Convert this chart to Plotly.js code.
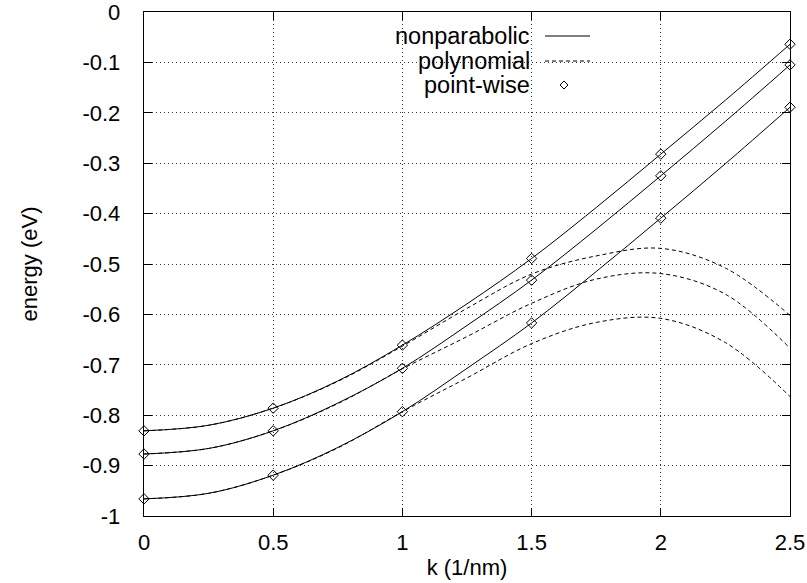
<!DOCTYPE html>
<html>
<head>
<meta charset="utf-8">
<script src="https://cdn.plot.ly/plotly-3.0.1.min.js"></script>
<style>
html,body{margin:0;padding:0;background:#fff;}
#chart{width:807px;height:583px;}
</style>
</head>
<body>
<div id="chart"></div>
<script>
// k values (1/nm)
const kLine = [0, 0.25, 0.5, 0.75, 1, 1.25, 1.5, 1.75, 2, 2.25, 2.5];
const kPts = [0, 0.5, 1, 1.5, 2, 2.5];

// nonparabolic curves (solid)
const nonpar1 = [-0.831, -0.820, -0.786, -0.732, -0.661, -0.579, -0.489, -0.388, -0.282, -0.175, -0.064];
const nonpar2 = [-0.877, -0.866, -0.831, -0.776, -0.707, -0.622, -0.532, -0.431, -0.325, -0.217, -0.105];
const nonpar3 = [-0.966, -0.955, -0.919, -0.864, -0.793, -0.707, -0.617, -0.515, -0.409, -0.301, -0.189];

// polynomial fits (dashed)
const poly1 = [-0.831, -0.820, -0.786, -0.733, -0.663, -0.588, -0.520, -0.484, -0.469, -0.508, -0.602];
const poly2 = [-0.877, -0.866, -0.831, -0.777, -0.708, -0.644, -0.578, -0.530, -0.519, -0.560, -0.667];
const poly3 = [-0.966, -0.955, -0.919, -0.865, -0.793, -0.726, -0.658, -0.616, -0.608, -0.656, -0.763];

// point-wise values (diamonds)
const pts1 = [-0.831, -0.786, -0.661, -0.489, -0.282, -0.064];
const pts2 = [-0.877, -0.831, -0.707, -0.532, -0.325, -0.105];
const pts3 = [-0.966, -0.919, -0.793, -0.617, -0.409, -0.189];

// tick labels
const xTickVals = [0, 0.5, 1, 1.5, 2, 2.5];
const xTickText = ["0", "0.5", "1", "1.5", "2", "2.5"];
const yTickVals = [0, -0.1, -0.2, -0.3, -0.4, -0.5, -0.6, -0.7, -0.8, -0.9, -1];
const yTickText = ["0", "-0.1", "-0.2", "-0.3", "-0.4", "-0.5", "-0.6", "-0.7", "-0.8", "-0.9", "-1"];

const legendLabels = ["nonparabolic", "polynomial", "point-wise"];

const FONT = "Liberation Sans, Arial, Helvetica, sans-serif";

const solid = {color: "#000", width: 1, shape: "spline"};
const dashed = {color: "#000", width: 1, shape: "spline", dash: "4px,3px"};
const mk = {symbol: "diamond-open", size: 8, color: "#000", line: {color: "#000", width: 1}};

const traces = [];
[nonpar1, nonpar2, nonpar3].forEach(v => traces.push({x: kLine, y: v, mode: "lines", line: solid, hoverinfo: "skip"}));
[poly1, poly2, poly3].forEach(v => traces.push({x: kLine, y: v, mode: "lines", line: dashed, hoverinfo: "skip"}));
[pts1, pts2, pts3].forEach(v => traces.push({x: kPts, y: v, mode: "markers", marker: mk, hoverinfo: "skip", cliponaxis: false}));

// custom legend (text left, sample right), in paper coordinates
const W = 807, H = 583, L = 144, R = 17, T = 12, B = 67;
const pw = W - L - R, ph = H - T - B;
const px = x => (x - L) / pw;
const py = y => 1 - (y - T) / ph;
const rowsY = [36, 61, 85];
const annotations = legendLabels.map((t, i) => ({
  text: t, xref: "paper", yref: "paper", x: px(532), y: py(rowsY[i]),
  xanchor: "right", yanchor: "middle", showarrow: false,
  font: {family: FONT, size: 23.5, color: "#000"}
}));
const shapes = [
  {type: "line", xref: "paper", yref: "paper", x0: px(545), x1: px(590), y0: py(rowsY[0]), y1: py(rowsY[0]), line: {color: "#000", width: 1}},
  {type: "line", xref: "paper", yref: "paper", x0: px(545), x1: px(590), y0: py(rowsY[1]), y1: py(rowsY[1]), line: {color: "#000", width: 1, dash: "4px,3px"}},
  {type: "path", xref: "paper", yref: "paper",
   path: `M ${px(560)} ${py(rowsY[2])} L ${px(564)} ${py(rowsY[2]-4)} L ${px(568)} ${py(rowsY[2])} L ${px(564)} ${py(rowsY[2]+4)} Z`,
   line: {color: "#000", width: 1}, fillcolor: "#fff"}
];

const axisCommon = {
  showline: true, linecolor: "#000", linewidth: 1.3, mirror: "ticks",
  ticks: "inside", ticklen: 8, tickcolor: "#000", tickwidth: 1,
  showgrid: true, gridcolor: "#333", griddash: "1px,3px", gridwidth: 1,
  zeroline: false, tickmode: "array", ticklabeloverflow: "allow",
  tickfont: {family: FONT, size: 22, color: "#000"}
};

const layout = {
  width: W, height: H,
  margin: {l: L, r: R, t: T, b: B},
  paper_bgcolor: "#fff", plot_bgcolor: "#fff",
  showlegend: false,
  font: {family: FONT, size: 22, color: "#000"},
  xaxis: Object.assign({}, axisCommon, {
    range: [0, 2.5], tickvals: xTickVals, ticktext: xTickText, ticklabelstandoff: 6,
    title: {text: "k (1/nm)", font: {family: FONT, size: 22}, standoff: 6}
  }),
  yaxis: Object.assign({}, axisCommon, {
    range: [-1, 0], tickvals: yTickVals, ticktext: yTickText, ticklabelstandoff: 18,
    title: {text: "energy (eV)", font: {family: FONT, size: 22}, standoff: 38}
  }),
  annotations: annotations,
  shapes: shapes
};

Plotly.newPlot("chart", traces, layout, {staticPlot: true, displayModeBar: false});
</script>
</body>
</html>
